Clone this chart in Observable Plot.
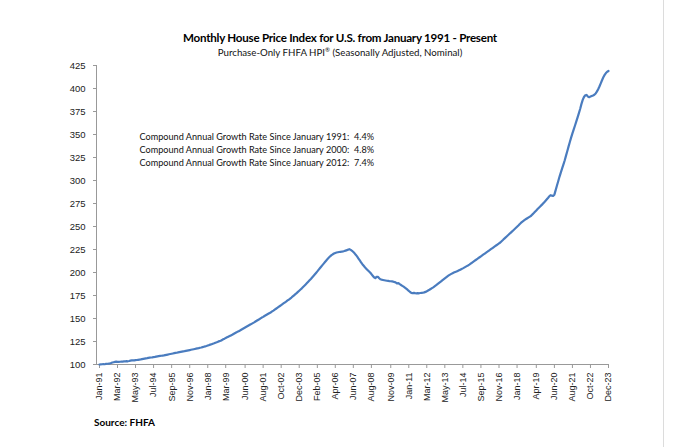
<!DOCTYPE html>
<html>
<head>
<meta charset="utf-8">
<script src="https://cdn.jsdelivr.net/npm/d3@7"></script>
<script src="https://cdn.jsdelivr.net/npm/@observablehq/plot@0.6"></script>
<style>
  body { margin: 0; background: #fff; width: 680px; height: 447px; position: relative; overflow: hidden; font-family: Lato, "Open Sans", sans-serif; }
  #title { position: absolute; left: 0; width: 680px; top: 31px; text-align: center; font-weight: bold; font-size: 11.6px; letter-spacing: -0.25px; color: #000; }
  #subtitle { position: absolute; left: 0; width: 680px; top: 46px; text-align: center; font-size: 9.7px; color: #111; }
  #subtitle sup { font-size: 6px; }
  #chart { position: absolute; left: 0; top: 60px; }
  #source { position: absolute; left: 94px; top: 416px; font-weight: bold; font-size: 10px; color: #000; }
  #edge { position: absolute; left: 663px; top: 0; width: 1px; height: 447px; background: #dcdcdc; }
</style>
</head>
<body>
<div id="title">Monthly House Price Index for U.S. from January 1991 - Present</div>
<div id="subtitle">Purchase-Only FHFA HPI<sup>®</sup> (Seasonally Adjusted, Nominal)</div>
<div id="chart"></div>
<div id="source">Source: FHFA</div>
<div id="edge"></div>
<script>
// Monthly index values, January 1991 = 100 (one row per year, Jan..Dec)
const startMonth = "1991-01";
const hpiValues = [
  100.0, 100.2, 100.3, 100.4, 100.3, 100.6, 100.8, 100.9, 101.1, 101.6, 102.2, 102.5, // 1991
  102.8, 103.1, 102.9, 102.8, 103.0, 103.1, 103.2, 103.4, 103.5, 103.6, 103.5, 103.8, // 1992
  104.2, 104.5, 104.6, 104.5, 104.8, 104.9, 105.1, 105.3, 105.5, 105.8, 106.1, 106.4, // 1993
  106.7, 106.9, 107.2, 107.5, 107.6, 107.8, 108.1, 108.3, 108.6, 108.9, 109.1, 109.3, // 1994
  109.5, 109.7, 109.9, 110.2, 110.5, 110.8, 111.1, 111.4, 111.7, 112.0, 112.3, 112.6, // 1995
  112.8, 113.1, 113.4, 113.7, 114.0, 114.3, 114.5, 114.8, 115.1, 115.4, 115.7, 116.0, // 1996
  116.3, 116.6, 116.9, 117.2, 117.5, 117.8, 118.2, 118.5, 118.9, 119.3, 119.7, 120.1, // 1997
  120.6, 121.1, 121.6, 122.1, 122.6, 123.1, 123.7, 124.2, 124.8, 125.4, 125.9, 126.5, // 1998
  127.4, 128.1, 128.8, 129.5, 130.2, 130.9, 131.6, 132.3, 133.1, 133.9, 134.7, 135.5, // 1999
  136.2, 137.0, 137.8, 138.6, 139.4, 140.2, 141.0, 141.8, 142.6, 143.4, 144.2, 145.0, // 2000
  145.8, 146.7, 147.5, 148.4, 149.2, 150.1, 151.0, 151.8, 152.7, 153.5, 154.3, 155.1, // 2001
  155.9, 156.8, 157.7, 158.6, 159.6, 160.6, 161.6, 162.6, 163.6, 164.6, 165.6, 166.6, // 2002
  167.6, 168.6, 169.6, 170.6, 171.7, 172.8, 174.0, 175.2, 176.4, 177.6, 178.9, 180.2, // 2003
  181.5, 182.8, 184.2, 185.6, 187.0, 188.5, 190.0, 191.5, 193.0, 194.6, 196.2, 197.8, // 2004
  199.5, 201.2, 202.9, 204.6, 206.3, 208.0, 209.7, 211.4, 213.1, 214.8, 216.3, 217.6, // 2005
  218.8, 219.8, 220.6, 221.2, 221.7, 222.0, 222.3, 222.5, 222.6, 222.9, 223.3, 223.8, // 2006
  224.3, 224.9, 225.3, 224.6, 223.6, 222.3, 220.8, 219.1, 217.2, 215.2, 213.1, 211.0, // 2007
  209.0, 207.3, 205.7, 204.2, 202.8, 201.4, 200.0, 198.3, 196.5, 194.8, 193.9, 195.2, // 2008
  195.4, 193.8, 192.6, 192.2, 191.9, 191.6, 191.3, 191.0, 190.8, 190.6, 190.5, 190.3, // 2009
  190.0, 189.6, 189.0, 188.1, 188.4, 187.3, 186.4, 185.5, 184.6, 183.6, 182.5, 181.3, // 2010
  180.0, 178.8, 177.9, 177.6, 177.8, 177.5, 177.3, 177.6, 177.4, 177.7, 177.9, 178.1, // 2011
  178.4, 178.9, 179.6, 180.4, 181.2, 182.1, 183.0, 183.9, 184.9, 185.9, 187.0, 188.1, // 2012
  189.2, 190.3, 191.4, 192.5, 193.6, 194.7, 195.8, 196.8, 197.7, 198.5, 199.2, 199.9, // 2013
  200.5, 201.1, 201.7, 202.4, 203.1, 203.8, 204.5, 205.3, 206.1, 206.9, 207.7, 208.6, // 2014
  209.6, 210.6, 211.6, 212.6, 213.6, 214.6, 215.6, 216.6, 217.6, 218.6, 219.6, 220.6, // 2015
  221.6, 222.6, 223.6, 224.6, 225.6, 226.6, 227.6, 228.6, 229.6, 230.6, 231.6, 232.6, // 2016
  234.0, 235.3, 236.6, 237.9, 239.2, 240.5, 241.8, 243.1, 244.4, 245.7, 247.0, 248.3, // 2017
  249.7, 251.1, 252.5, 253.9, 255.1, 256.2, 257.2, 258.1, 259.0, 259.9, 260.8, 261.7, // 2018
  263.2, 264.6, 266.0, 267.5, 269.0, 270.4, 271.8, 273.2, 274.6, 276.1, 277.7, 279.3, // 2019
  281.0, 282.8, 284.0, 283.6, 283.2, 284.6, 289.5, 294.5, 299.5, 304.3, 308.8, 313.2, // 2020
  317.6, 322.0, 326.8, 331.8, 336.8, 341.8, 346.6, 351.2, 355.6, 359.8, 364.2, 368.6, // 2021
  373.2, 378.0, 383.0, 387.6, 390.8, 392.6, 393.0, 391.2, 390.6, 391.2, 391.8, 392.4, // 2022
  393.2, 394.6, 396.6, 399.2, 402.2, 405.6, 409.0, 412.2, 414.8, 416.8, 418.2, 419.0  // 2023
];
const xTickLabels = ["Jan-91","Mar-92","May-93","Jul-94","Sep-95","Nov-96","Jan-98","Mar-99","Jun-00",
  "Aug-01","Oct-02","Dec-03","Feb-05","Apr-06","Jun-07","Aug-08","Nov-09","Jan-11","Mar-12","May-13",
  "Jul-14","Sep-15","Nov-16","Jan-18","Apr-19","Jun-20","Aug-21","Oct-22","Dec-23"];
const yTicks = [100,125,150,175,200,225,250,275,300,325,350,375,400,425];
const notes = [
  "Compound Annual Growth Rate Since January 1991:  4.4%",
  "Compound Annual Growth Rate Since January 2000:  4.8%",
  "Compound Annual Growth Rate Since January 2012:  7.4%"
];

const parseLabel = d3.utcParse("%b-%y");
const start = d3.utcParse("%Y-%m")(startMonth);
const series = hpiValues.map((v, i) => ({date: d3.utcMonth.offset(start, i), value: v}));
const tickDates = xTickLabels.map(parseLabel);

const chart = Plot.plot({
  width: 680,
  height: 350,
  marginLeft: 96,
  marginRight: 72,
  marginTop: 5,
  marginBottom: 46,
  insetLeft: 3,
  style: {fontFamily: "'Liberation Sans', Arial, sans-serif", fontSize: "9.5px", color: "#222", background: "transparent"},
  x: {type: "utc", domain: [series[0].date, series[series.length - 1].date]},
  y: {domain: [100, 425]},
  marks: [
    Plot.axisY({ticks: yTicks, tickSize: 3, tickPadding: 8, tickFormat: d => String(d), label: null, stroke: "#999", fontSize: 9.5}),
    Plot.axisX({ticks: tickDates, tickSize: 4, tickPadding: 4, tickRotate: -90, tickFormat: d3.utcFormat("%b-%y"), label: null, stroke: "#999", fontSize: 9}),
    Plot.frame({anchor: "left", stroke: "#999"}),
    Plot.ruleY([100], {stroke: "#999", insetLeft: -3}),
    Plot.line(series, {x: "date", y: "value", stroke: "#4a7cbf", strokeWidth: 2.2, curve: "linear"}),
    Plot.text([notes.join("\n")], {frameAnchor: "top-left", dx: 43, dy: 65.5, lineAnchor: "top", textAnchor: "start", lineHeight: 1.42, fontSize: 9.15, fontFamily: "Lato, 'Open Sans', sans-serif", fill: "#111"})
  ]
});
document.getElementById("chart").appendChild(chart);
</script>
</body>
</html>
